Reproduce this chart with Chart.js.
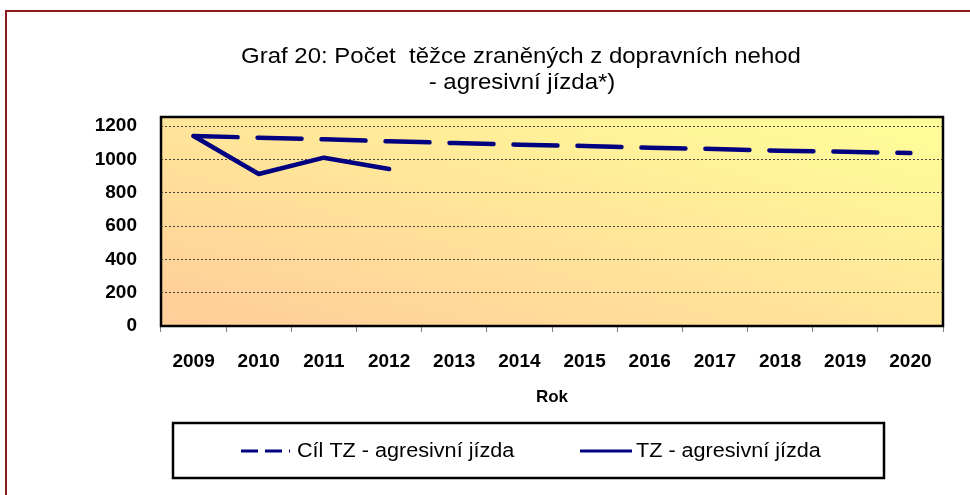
<!DOCTYPE html>
<html>
<head>
<meta charset="utf-8">
<script src="https://cdn.jsdelivr.net/npm/chart.js@4.4.0/dist/chart.umd.min.js"></script>
<style>
  html, body { margin: 0; padding: 0; background: #fff; overflow: hidden; }
  #wrap { position: relative; width: 970px; height: 495px; }
  #frame { position: absolute; left: 5px; top: 10px; width: 990px; height: 520px;
           border-top: 2px solid #8b1a1a; border-left: 2px solid #8b1a1a; }
  canvas { position: absolute; left: 0; top: 0; }
</style>
</head>
<body>
<div id="wrap"><div id="frame"></div><canvas id="chart" width="970" height="495"></canvas></div>
<script>
// data
const years = ['2009', '2010', '2011', '2012', '2013', '2014', '2015', '2016', '2017', '2018', '2019', '2020'];
const targetValues = [1140, 1130, 1120, 1108, 1098, 1088, 1080, 1070, 1062, 1052, 1045, 1038];
const actualValues = [1140, 912, 1010, 942, null, null, null, null, null, null, null, null];
const yTicks = [0, 200, 400, 600, 800, 1000, 1200];
const titleLines = ['Graf 20: Počet  těžce zraněných z dopravních nehod', '- agresivní jízda*)'];
const seriesNames = ['Cíl TZ - agresivní jízda', 'TZ - agresivní jízda'];
const axisTitle = 'Rok';

const navy = '#000080';
const FONT = '"Liberation Sans", Arial, sans-serif';

function wideText(ctx, text, x, y, align, stretch) {
  ctx.save();
  ctx.translate(x, y);
  ctx.scale(stretch, 1);
  ctx.textAlign = align;
  ctx.fillText(text, 0, 0);
  ctx.restore();
}

// plot background gradient (diagonal in the plot's own proportions) + black frame
const plotBox = {
  id: 'plotBox',
  beforeDatasetsDraw(chart) {
    const { ctx, chartArea: a } = chart;
    ctx.save();
    ctx.globalCompositeOperation = 'destination-over';
    ctx.translate(a.left, a.top);
    ctx.scale(a.right - a.left, a.bottom - a.top);
    const g = ctx.createLinearGradient(0, 1, 1, 0);
    g.addColorStop(0, '#ffcc99');
    g.addColorStop(1, '#ffff99');
    ctx.fillStyle = g;
    ctx.fillRect(0, 0, 1, 1);
    ctx.restore();
  },
  afterDraw(chart) {
    const { ctx, chartArea: a } = chart;
    ctx.save();
    ctx.strokeStyle = '#000';
    ctx.lineWidth = 2.5;
    ctx.strokeRect(a.left, a.top, a.right - a.left, a.bottom - a.top);
    ctx.restore();
  }
};

// title and boxed legend, drawn by hand
const decorations = {
  id: 'decorations',
  afterDraw(chart) {
    const ctx = chart.ctx;
    ctx.save();
    ctx.fillStyle = '#000';
    ctx.textBaseline = 'middle';
    ctx.font = '22px ' + FONT;
    wideText(ctx, titleLines[0], 521, 57, 'center', 1.09);
    wideText(ctx, titleLines[1], 522, 83, 'center', 1.09);

    // legend box
    ctx.strokeStyle = '#000';
    ctx.lineWidth = 2.5;
    ctx.strokeRect(173, 423, 711, 55);

    const ly = 451;
    const ds = chart.data.datasets;
    const items = [{ x0: 241, x1: 290, tx: 297 }, { x0: 580, x1: 632, tx: 636 }];
    items.forEach((it, i) => {
      ctx.beginPath();
      ctx.strokeStyle = ds[i].borderColor;
      ctx.lineWidth = 3;
      ctx.setLineDash(i === 0 ? [17, 7] : []);
      ctx.moveTo(it.x0, ly);
      ctx.lineTo(it.x1, ly);
      ctx.stroke();
      ctx.setLineDash([]);
      ctx.fillStyle = '#000';
      ctx.font = '20px ' + FONT;
      wideText(ctx, seriesNames[i], it.tx, ly, 'left', 1.08);
    });
    ctx.restore();
  }
};

new Chart(document.getElementById('chart'), {
  type: 'line',
  data: {
    labels: years,
    datasets: [
      {
        label: seriesNames[0],
        data: targetValues,
        borderColor: navy,
        borderWidth: 4.5,
        borderDash: [44, 20],
        borderCapStyle: 'round',
        pointRadius: 0,
        tension: 0
      },
      {
        label: seriesNames[1],
        data: actualValues,
        borderColor: navy,
        borderWidth: 4.5,
        borderCapStyle: 'round',
        borderJoinStyle: 'round',
        pointRadius: 0,
        tension: 0,
        spanGaps: false
      }
    ]
  },
  options: {
    responsive: false,
    animation: false,
    layout: { padding: { left: 0, right: 27, top: 117, bottom: 87 } },
    plugins: {
      legend: { display: false },
      title: { display: false },
      tooltip: { enabled: false }
    },
    scales: {
      x: {
        offset: true,
        grid: { display: true, offset: true, drawOnChartArea: false, drawTicks: true, tickLength: 6, color: '#808080' },
        border: { display: false },
        ticks: { color: '#000', padding: 18, maxRotation: 0, font: { family: FONT, size: 19, weight: 'bold' } },
        title: { display: true, text: axisTitle, color: '#000', padding: { top: 0, bottom: 0 },
                 font: { family: FONT, size: 17, weight: 'bold' } },
        afterFit(scale) { scale.height = 82; }
      },
      y: {
        min: 0,
        max: 1254,
        afterBuildTicks(scale) { scale.ticks = yTicks.map(v => ({ value: v })); },
        grid: { color: '#444', lineWidth: 1, drawTicks: false },
        border: { display: false, dash: [2, 2] },
        ticks: { color: '#000', padding: 24, callback: v => String(v),
                 font: { family: FONT, size: 19, weight: 'bold' } },
        afterFit(scale) { scale.width = 161; }
      }
    }
  },
  plugins: [plotBox, decorations]
});
</script>
</body>
</html>
